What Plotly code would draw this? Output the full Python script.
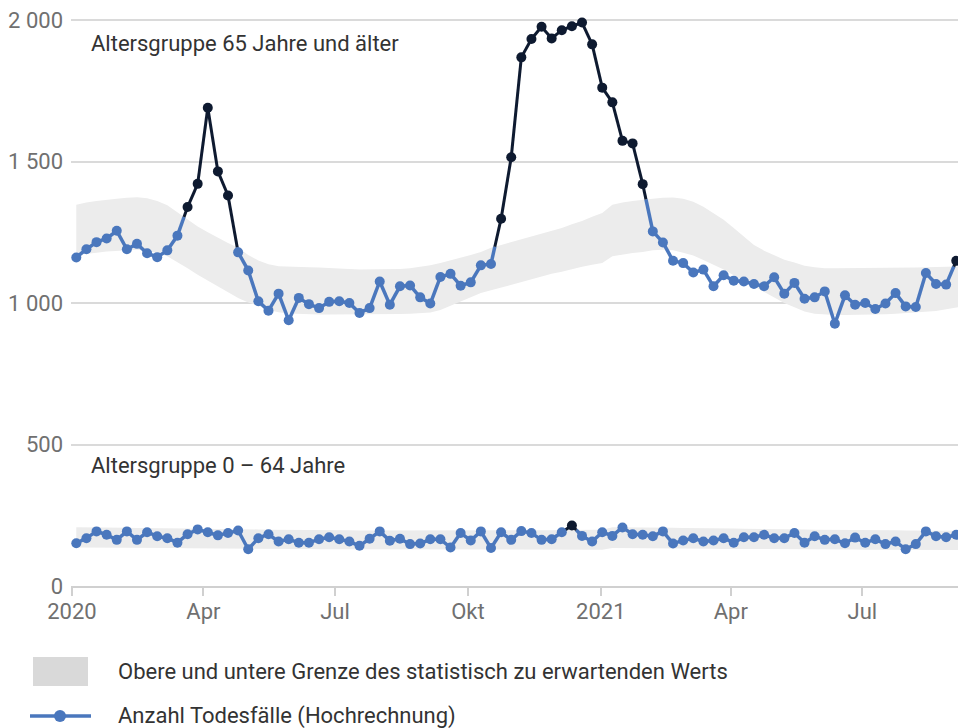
import pandas as pd
import plotly.graph_objects as go

# ---------------- data ----------------
start_date = "2020-01-04"
n_weeks = 88

deaths_65plus = [
    1161, 1190, 1215, 1228, 1255, 1190, 1209, 1176, 1162, 1186,
    1238, 1339, 1421, 1690, 1465, 1380, 1179, 1115, 1006, 973,
    1033, 939, 1018, 996, 982, 1004, 1006, 1000, 965, 982,
    1076, 994, 1059, 1062, 1020, 998, 1092, 1103, 1061, 1073,
    1133, 1138, 1298, 1515, 1868, 1933, 1976, 1935, 1964, 1978,
    1991, 1914, 1761, 1709, 1573, 1564, 1420, 1253, 1214, 1149,
    1141, 1108, 1118, 1059, 1098, 1079, 1076, 1067, 1059, 1091,
    1033, 1071, 1015, 1020, 1041, 927, 1027, 994, 1000, 979,
    998, 1035, 988, 986, 1106, 1067, 1065, 1149,
]
upper_65plus = [
    1347, 1355, 1360, 1365, 1368, 1372, 1374, 1370, 1360, 1345,
    1320, 1295, 1270, 1250, 1230, 1212, 1195, 1170, 1150, 1137,
    1130, 1128, 1127, 1126, 1125, 1124, 1123, 1120, 1118, 1118,
    1118, 1119, 1120, 1123, 1127, 1133, 1141, 1150, 1160, 1170,
    1180, 1195, 1205, 1215, 1225, 1235, 1245, 1255, 1265, 1278,
    1290, 1305, 1318, 1347, 1355, 1360, 1365, 1368, 1372, 1373,
    1368, 1358, 1340, 1318, 1294, 1265, 1235, 1205, 1185, 1168,
    1153, 1143, 1132, 1126, 1123, 1123, 1123, 1123, 1123, 1123,
    1123, 1123, 1124, 1125, 1126, 1127, 1128, 1129, 1130,
]
lower_65plus = [
    1170, 1175, 1178, 1182, 1184, 1186, 1188, 1185, 1177, 1165,
    1145, 1123, 1100, 1080, 1059, 1038, 1018, 1002, 990, 975,
    967, 963, 961, 960, 959, 959, 959, 959, 959, 959,
    959, 960, 961, 962, 963, 966, 975, 990, 1005, 1020,
    1035, 1045, 1055, 1065, 1075, 1085, 1095, 1103, 1110, 1120,
    1128, 1135, 1141, 1165, 1172, 1177, 1180, 1186, 1188, 1186,
    1178, 1168, 1152, 1135, 1118, 1098, 1078, 1060, 1040, 1018,
    1000, 985, 970, 962, 959, 958, 958, 958, 958, 959,
    960, 962, 964, 966, 968, 972, 978, 984, 990,
]

deaths_0_64 = [
    151, 169, 193, 181, 163, 193, 163, 190, 176, 169,
    153, 183, 200, 190, 179, 187, 196, 130, 169, 183,
    157, 165, 153, 153, 165, 172, 165, 157, 142, 167,
    193, 160, 167, 148, 150, 165, 165, 136, 187, 161,
    193, 134, 190, 163, 194, 187, 163, 165, 190, 214,
    177, 157, 190, 177, 207, 183, 181, 176, 193, 150,
    161, 169, 157, 161, 169, 153, 172, 172, 181, 169,
    169, 187, 153, 176, 163, 165, 151, 171, 153, 165,
    148, 157, 130, 148, 193, 176, 172, 181,
]
upper_0_64 = [
    208, 208, 207, 207, 206, 206, 205, 205, 204, 204,
    203, 203, 202, 202, 201, 201, 200, 200, 200, 199,
    199, 199, 198, 198, 198, 197, 197, 197, 196, 196,
    196, 196, 195, 195, 195, 195, 195, 195, 195, 195,
    195, 196, 196, 196, 196, 197, 197, 197, 198, 198,
    198, 199, 199, 208, 208, 208, 207, 207, 206, 206,
    205, 205, 204, 204, 203, 203, 202, 202, 201, 201,
    200, 200, 200, 199, 199, 199, 198, 198, 198, 197,
    197, 197, 196, 196, 196, 196, 195, 195, 195,
]
lower_0_64 = [
    136, 136, 136, 135, 135, 135, 135, 134, 134, 134,
    134, 133, 133, 133, 133, 132, 132, 132, 132, 131,
    131, 131, 131, 131, 130, 130, 130, 130, 130, 130,
    129, 129, 129, 129, 129, 129, 129, 129, 128, 128,
    128, 128, 128, 128, 128, 128, 128, 128, 128, 128,
    128, 128, 128, 134, 134, 134, 133, 133, 133, 133,
    132, 132, 132, 132, 131, 131, 131, 131, 130, 130,
    130, 130, 130, 129, 129, 129, 129, 129, 128, 128,
    128, 128, 128, 128, 127, 127, 127, 127, 127,
]

x_tick_dates = ["2020-01-01", "2020-04-01", "2020-07-01", "2020-10-01",
                "2021-01-01", "2021-04-01", "2021-07-01"]
x_tick_labels = ["2020", "Apr", "Jul", "Okt", "2021", "Apr", "Jul"]
y_tick_vals = [0, 500, 1000, 1500, 2000]

group_labels = ["Altersgruppe 65 Jahre und älter", "Altersgruppe 0 – 64 Jahre"]
legend_labels = ["Obere und untere Grenze des statistisch zu erwartenden Werts",
                 "Anzahl Todesfälle (Hochrechnung)"]

# ---------------- styles ----------------
BLUE = "#4a77bd"
DARK = "#0e1a30"
BAND = "#ececec"
LEGEND_BAND = "#d9d9d9"
GRID = "#dadada"
FONT = "Roboto"
TEXT_SIZE = 22

dates = pd.date_range(start_date, periods=n_weeks, freq="7D")
band_dates = pd.date_range(start_date, periods=len(upper_65plus), freq="7D")
week = pd.Timedelta(days=7)


def split_segments(values, upper):
    """Split the polyline into parts below / above the upper bound."""
    bx, by, dx, dy = [], [], [], []
    for i in range(len(values) - 1):
        a = values[i] - upper[i]
        b = values[i + 1] - upper[i + 1]
        x0, x1 = dates[i], dates[i + 1]
        y0, y1 = values[i], values[i + 1]
        if a > 0 and b > 0:
            dx += [x0, x1, None]; dy += [y0, y1, None]
        elif a <= 0 and b <= 0:
            bx += [x0, x1, None]; by += [y0, y1, None]
        else:
            t = a / (a - b)
            xc = x0 + t * week
            yc = y0 + t * (y1 - y0)
            if a > 0:
                dx += [x0, xc, None]; dy += [y0, yc, None]
                bx += [xc, x1, None]; by += [yc, y1, None]
            else:
                bx += [x0, xc, None]; by += [y0, yc, None]
                dx += [xc, x1, None]; dy += [yc, y1, None]
    return bx, by, dx, dy


fig = go.Figure()

for values, upper, lower in [(deaths_65plus, upper_65plus, lower_65plus),
                             (deaths_0_64, upper_0_64, lower_0_64)]:
    fig.add_trace(go.Scatter(x=band_dates, y=lower, mode="lines",
                             line=dict(width=0, color=BAND),
                             hoverinfo="skip", showlegend=False))
    fig.add_trace(go.Scatter(x=band_dates, y=upper, mode="lines",
                             line=dict(width=0, color=BAND), fill="tonexty",
                             fillcolor=BAND, hoverinfo="skip", showlegend=False))

for values, upper in [(deaths_65plus, upper_65plus), (deaths_0_64, upper_0_64)]:
    bx, by, dx, dy = split_segments(values, upper)
    fig.add_trace(go.Scatter(x=bx, y=by, mode="lines",
                             line=dict(color=BLUE, width=3.5),
                             showlegend=False, hoverinfo="skip"))
    fig.add_trace(go.Scatter(x=dx, y=dy, mode="lines",
                             line=dict(color=DARK, width=3),
                             showlegend=False, hoverinfo="skip"))
    above = [v > u for v, u in zip(values, upper)]
    fig.add_trace(go.Scatter(
        x=[d for d, a in zip(dates, above) if not a],
        y=[v for v, a in zip(values, above) if not a],
        mode="markers", marker=dict(color=BLUE, size=10),
        showlegend=False))
    fig.add_trace(go.Scatter(
        x=[d for d, a in zip(dates, above) if a],
        y=[v for v, a in zip(values, above) if a],
        mode="markers", marker=dict(color=DARK, size=10),
        showlegend=False))

# ---------------- layout ----------------
OFF = 8                      # default page body margin
W, H = 966 - OFF, 728 - OFF
Y_MAX = 2000
PX_PER_UNIT = 566 / Y_MAX    # 0 at y=586, 2000 at y=20 in the window
HEADROOM = 8                 # extra px above the 2000 gridline inside the plot
L, R = 63, 0
T = 12 - HEADROOM
ph = 566 + HEADROOM
B = H - T - ph
pw = W - L - R
y_top = Y_MAX + HEADROOM / PX_PER_UNIT


def px(xp):
    return (xp - OFF - L) / pw


def py(yp):
    return (OFF + T + ph - yp) / ph


annotations = [
    dict(text=group_labels[0], x=px(89), y=py(43), xref="paper", yref="paper",
         xanchor="left", yanchor="middle", showarrow=False,
         font=dict(family=FONT, size=TEXT_SIZE, color="#333333")),
    dict(text=group_labels[1], x=px(89), y=py(466), xref="paper", yref="paper",
         xanchor="left", yanchor="middle", showarrow=False,
         font=dict(family=FONT, size=TEXT_SIZE, color="#333333")),
    dict(text=legend_labels[0], x=px(116), y=py(672), xref="paper", yref="paper",
         xanchor="left", yanchor="middle", showarrow=False,
         font=dict(family=FONT, size=TEXT_SIZE, color="#333333")),
    dict(text=legend_labels[1], x=px(116), y=py(716), xref="paper", yref="paper",
         xanchor="left", yanchor="middle", showarrow=False,
         font=dict(family=FONT, size=TEXT_SIZE, color="#333333")),
]

shapes = [
    dict(type="rect", xref="paper", yref="paper",
         x0=px(33), x1=px(88), y0=py(686), y1=py(657),
         fillcolor=LEGEND_BAND, line=dict(width=0)),
    dict(type="line", xref="paper", yref="paper",
         x0=px(30), x1=px(91), y0=py(716), y1=py(716),
         line=dict(color=BLUE, width=3.5)),
    dict(type="circle", xref="paper", yref="paper",
         x0=px(54), x1=px(66), y0=py(722), y1=py(710),
         fillcolor=BLUE, line=dict(width=0)),
]

fig.update_layout(
    width=W, height=H,
    margin=dict(l=L, r=R, t=T, b=B, pad=0),
    paper_bgcolor="white", plot_bgcolor="white",
    font=dict(family=FONT, size=TEXT_SIZE, color="#333333"),
    separators=", ",
    showlegend=False,
    annotations=annotations,
    shapes=shapes,
    xaxis=dict(
        type="date",
        range=["2019-12-31 08:00", "2021-09-10 18:00"],
        tickvals=x_tick_dates, ticktext=x_tick_labels,
        ticks="outside", ticklen=8, tickwidth=2, tickcolor="#d0d0d0",
        showline=True, linecolor="#d0d0d0", linewidth=2,
        showgrid=False, zeroline=False, ticklabelstandoff=-3,
        tickfont=dict(family=FONT, size=TEXT_SIZE, color="#707070"),
    ),
    yaxis=dict(
        range=[0, y_top],
        tickvals=y_tick_vals, separatethousands=True,
        showgrid=True, gridcolor=GRID, gridwidth=2,
        zeroline=False, showline=False, ticks="",
        ticklabelstandoff=7, ticklabeloverflow="allow",
        tickfont=dict(family=FONT, size=TEXT_SIZE, color="#707070"),
    ),
)

fig.write_html("out.html")
